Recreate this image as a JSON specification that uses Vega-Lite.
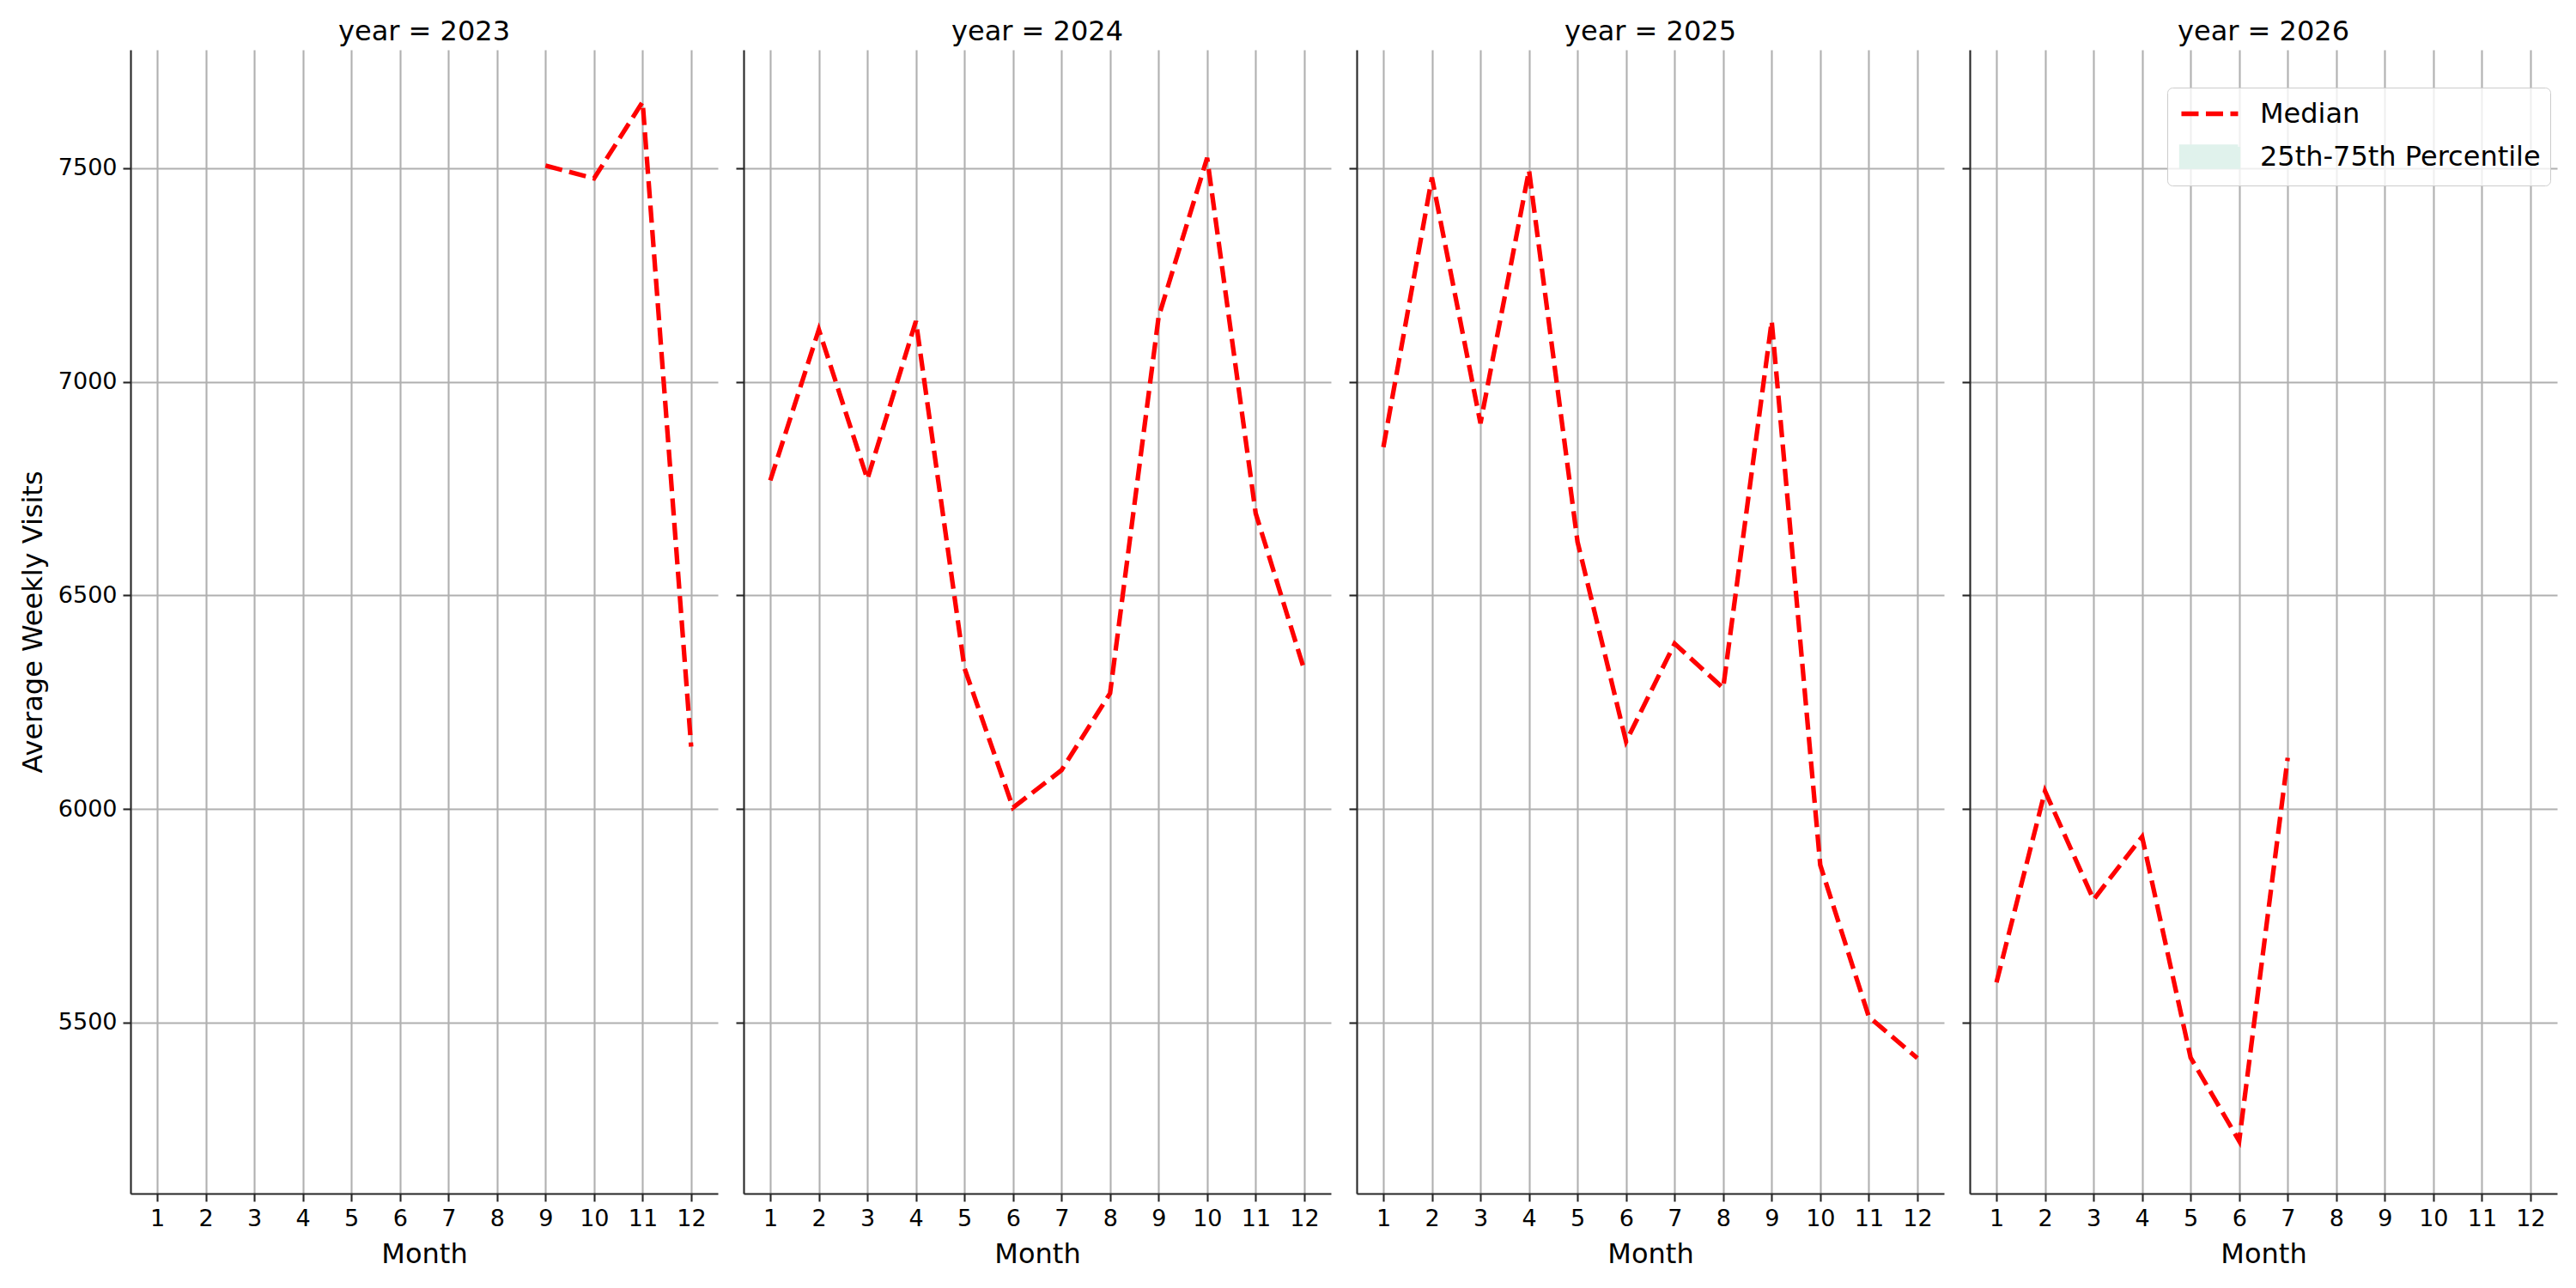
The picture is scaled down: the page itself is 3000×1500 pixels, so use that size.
{
  "$schema": "https://vega.github.io/schema/vega-lite/v6.json",
  "background": "white",
  "padding": {"left": 22, "top": 21, "right": 18, "bottom": 10},
  "data": {
    "values": [
      {"year": 2023, "month": 9, "visits": 7506},
      {"year": 2023, "month": 10, "visits": 7476},
      {"year": 2023, "month": 11, "visits": 7655},
      {"year": 2023, "month": 12, "visits": 6146},
      {"year": 2024, "month": 1, "visits": 6769},
      {"year": 2024, "month": 2, "visits": 7122},
      {"year": 2024, "month": 3, "visits": 6772},
      {"year": 2024, "month": 4, "visits": 7142},
      {"year": 2024, "month": 5, "visits": 6330},
      {"year": 2024, "month": 6, "visits": 6003},
      {"year": 2024, "month": 7, "visits": 6091},
      {"year": 2024, "month": 8, "visits": 6271},
      {"year": 2024, "month": 9, "visits": 7152},
      {"year": 2024, "month": 10, "visits": 7524},
      {"year": 2024, "month": 11, "visits": 6692},
      {"year": 2024, "month": 12, "visits": 6326},
      {"year": 2025, "month": 1, "visits": 6847},
      {"year": 2025, "month": 2, "visits": 7478},
      {"year": 2025, "month": 3, "visits": 6903},
      {"year": 2025, "month": 4, "visits": 7495},
      {"year": 2025, "month": 5, "visits": 6625},
      {"year": 2025, "month": 6, "visits": 6158},
      {"year": 2025, "month": 7, "visits": 6387},
      {"year": 2025, "month": 8, "visits": 6283},
      {"year": 2025, "month": 9, "visits": 7142},
      {"year": 2025, "month": 10, "visits": 5869},
      {"year": 2025, "month": 11, "visits": 5514},
      {"year": 2025, "month": 12, "visits": 5417},
      {"year": 2026, "month": 1, "visits": 5594},
      {"year": 2026, "month": 2, "visits": 6042},
      {"year": 2026, "month": 3, "visits": 5788},
      {"year": 2026, "month": 4, "visits": 5935},
      {"year": 2026, "month": 5, "visits": 5418},
      {"year": 2026, "month": 6, "visits": 5223},
      {"year": 2026, "month": 7, "visits": 6120}
    ]
  },
  "spacing": 30,
  "bounds": "flush",
  "hconcat": [
    {
      "title": "year = 2023",
      "width": 684,
      "height": 1332,
      "transform": [{"filter": "datum.year == 2023"}],
      "mark": {"type": "line", "color": "#ff0000", "strokeDash": [20, 8.5], "strokeWidth": 5.3},
      "encoding": {
        "x": {"field": "month", "type": "quantitative", "scale": {"domain": [0.45, 12.55], "nice": false, "zero": false},
              "axis": {"values": [1, 2, 3, 4, 5, 6, 7, 8, 9, 10, 11, 12], "format": "d", "title": "Month"}},
        "y": {"field": "visits", "type": "quantitative", "scale": {"domain": [5100, 7777], "nice": false, "zero": false},
              "axis": {"values": [5500, 6000, 6500, 7000, 7500], "format": "d", "title": "Average Weekly Visits"}}
      }
    },
    {
      "title": "year = 2024",
      "width": 684,
      "height": 1332,
      "transform": [{"filter": "datum.year == 2024"}],
      "mark": {"type": "line", "color": "#ff0000", "strokeDash": [20, 8.5], "strokeWidth": 5.3},
      "encoding": {
        "x": {"field": "month", "type": "quantitative", "scale": {"domain": [0.45, 12.55], "nice": false, "zero": false},
              "axis": {"values": [1, 2, 3, 4, 5, 6, 7, 8, 9, 10, 11, 12], "format": "d", "title": "Month"}},
        "y": {"field": "visits", "type": "quantitative", "scale": {"domain": [5100, 7777], "nice": false, "zero": false},
              "axis": {"values": [5500, 6000, 6500, 7000, 7500], "labels": false, "title": null}}
      }
    },
    {
      "title": "year = 2025",
      "width": 684,
      "height": 1332,
      "transform": [{"filter": "datum.year == 2025"}],
      "mark": {"type": "line", "color": "#ff0000", "strokeDash": [20, 8.5], "strokeWidth": 5.3},
      "encoding": {
        "x": {"field": "month", "type": "quantitative", "scale": {"domain": [0.45, 12.55], "nice": false, "zero": false},
              "axis": {"values": [1, 2, 3, 4, 5, 6, 7, 8, 9, 10, 11, 12], "format": "d", "title": "Month"}},
        "y": {"field": "visits", "type": "quantitative", "scale": {"domain": [5100, 7777], "nice": false, "zero": false},
              "axis": {"values": [5500, 6000, 6500, 7000, 7500], "labels": false, "title": null}}
      }
    },
    {
      "title": "year = 2026",
      "width": 684,
      "height": 1332,
      "transform": [{"filter": "datum.year == 2026"}],
      "mark": {"type": "line", "strokeDash": [20, 8.5], "strokeWidth": 5.3},
      "encoding": {
        "x": {"field": "month", "type": "quantitative", "scale": {"domain": [0.45, 12.55], "nice": false, "zero": false},
              "axis": {"values": [1, 2, 3, 4, 5, 6, 7, 8, 9, 10, 11, 12], "format": "d", "title": "Month"}},
        "y": {"field": "visits", "type": "quantitative", "scale": {"domain": [5100, 7777], "nice": false, "zero": false},
              "axis": {"values": [5500, 6000, 6500, 7000, 7500], "labels": false, "title": null}},
        "color": {
          "datum": "Median",
          "type": "nominal",
          "scale": {"domain": ["Median", "25th-75th Percentile"], "range": ["#ff0000", "#e0f2ec"]},
          "legend": {
            "title": null,
            "orient": "none",
            "legendX": 230,
            "legendY": 44,
            "padding": 11,
            "fillColor": "rgba(255,255,255,0.8)",
            "strokeColor": "#cccccc",
            "cornerRadius": 6,
            "labelFontSize": 32,
            "labelColor": "#000000",
            "labelLimit": 0,
            "labelOffset": 58,
            "rowPadding": 11,
            "symbolSize": 1089,
            "symbolStrokeWidth": 5.3,
            "encode": {
              "symbols": {
                "update": {
                  "shape": {"signal": "datum.value === 'Median' ? 'M-0.85,0H3.15' : 'M-0.85,-0.7H3.15V0.7H-0.85Z'"},
                  "strokeDash": {"signal": "datum.value === 'Median' ? [20, 8.5] : [1, 0]"},
                  "stroke": {"signal": "datum.value === 'Median' ? '#ff0000' : 'transparent'"},
                  "fill": {"signal": "datum.value === 'Median' ? 'transparent' : '#e0f2ec'"},
                  "strokeWidth": {"value": 5.3},
                  "opacity": {"value": 1}
                }
              }
            }
          }
        }
      }
    }
  ],
  "resolve": {"scale": {"color": "independent"}, "legend": {"color": "independent"}},
  "config": {
    "font": "DejaVu Sans",
    "view": {"stroke": null},
    "axis": {
      "domainColor": "#262626",
      "domainWidth": 2.1,
      "tickColor": "#262626",
      "tickWidth": 2.1,
      "tickSize": 9,
      "labelFontSize": 27,
      "labelColor": "#000000",
      "labelPadding": 7,
      "labelFlush": false,
      "labelOverlap": false,
      "titleFontSize": 32,
      "titleFontWeight": "normal",
      "titleColor": "#000000",
      "gridColor": "#b0b0b0",
      "gridWidth": 2.1,
      "grid": true
    },
    "axisX": {"titlePadding": 13},
    "axisY": {"titlePadding": 12},
    "title": {"fontSize": 32, "fontWeight": "normal", "color": "#000000", "anchor": "middle", "offset": 4, "baseline": "alphabetic"}
  }
}
